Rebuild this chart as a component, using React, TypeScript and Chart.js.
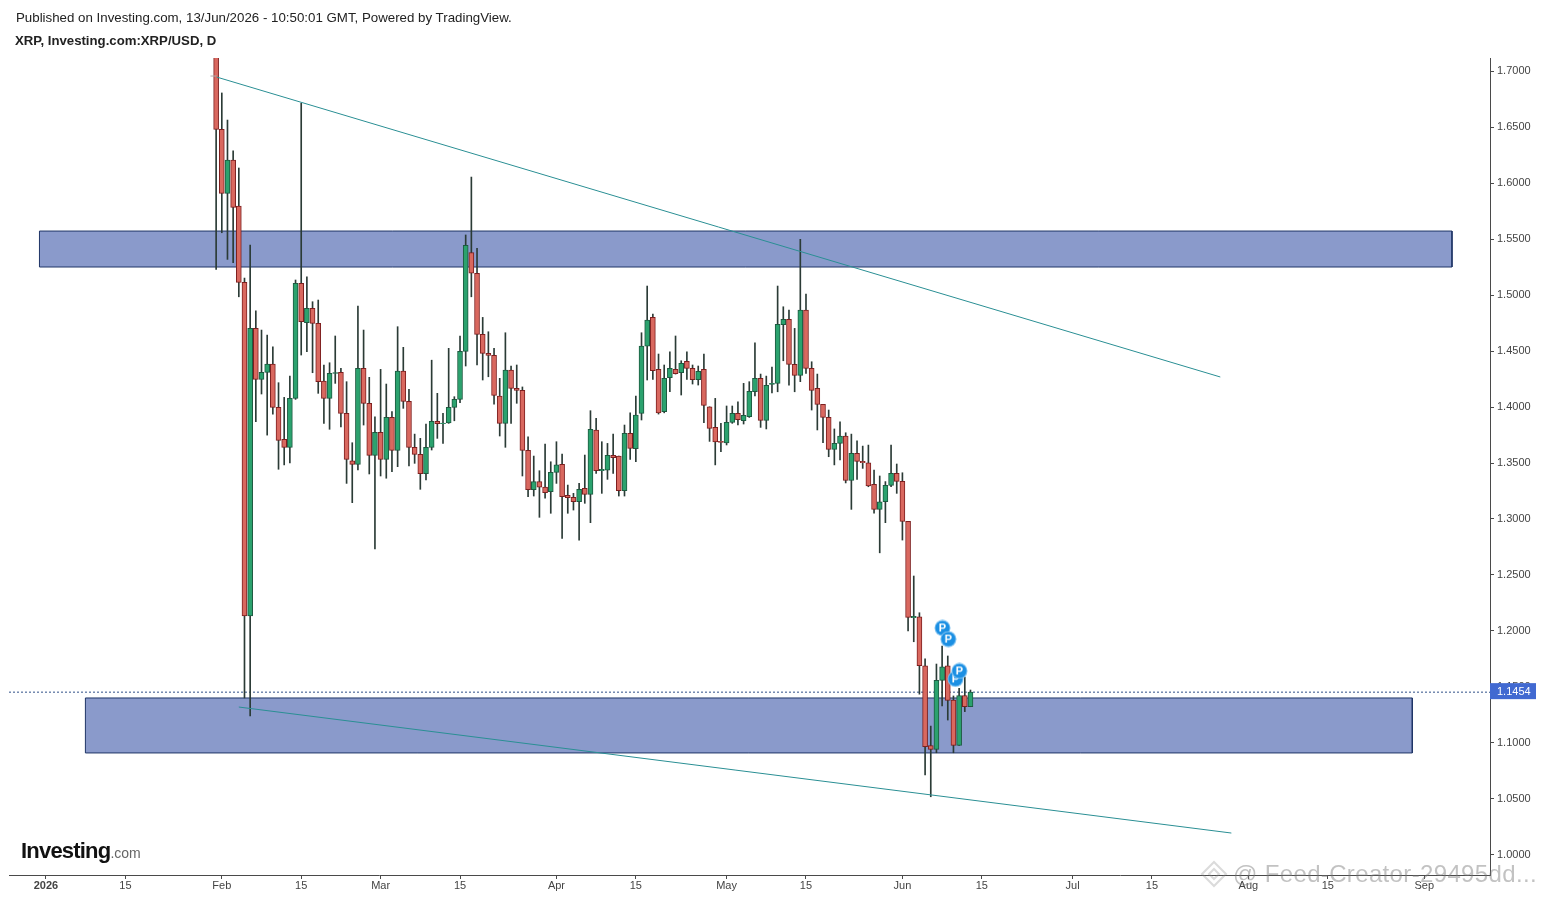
import React, { useEffect, useRef } from "react";
import { Chart, registerables } from "chart.js";

Chart.register(...registerables);

const firstDay = 30; // days since 1 Jan 2026
const opens = [1.72,1.6479,1.5908,1.6205,1.5794,1.5113,1.2134,1.4702,1.4247,1.4309,1.4384,1.3997,1.3711,1.364,1.4077,1.5104,1.4752,1.4881,1.4747,1.4232,1.4077,1.43,1.4309,1.3943,1.352,1.3488,1.4345,1.4033,1.3568,1.3773,1.3532,1.3907,1.3613,1.4321,1.405,1.364,1.3577,1.3404,1.364,1.3872,1.3851,1.3857,1.3997,1.4068,1.4497,1.5378,1.5194,1.4649,1.4479,1.4461,1.4098,1.3854,1.433,1.4166,1.4149,1.3613,1.3262,1.3334,1.3284,1.3244,1.3417,1.3488,1.3212,1.3194,1.3154,1.3274,1.322,1.3795,1.3431,1.3437,1.3568,1.3562,1.3253,1.3765,1.3628,1.3943,1.4544,1.48,1.4336,1.3958,1.4261,1.4336,1.4306,1.4408,1.4345,1.4243,1.4336,1.4002,1.3818,1.3693,1.368,1.3863,1.3943,1.3877,1.3913,1.4136,1.4256,1.3881,1.4202,1.4211,1.4734,1.4782,1.438,1.4282,1.4866,1.4345,1.4166,1.4023,1.3907,1.3622,1.3675,1.3741,1.3344,1.3586,1.3515,1.3502,1.3309,1.3086,1.3154,1.33,1.3407,1.3336,1.2979,1.2118,1.2127,1.169,1.0976,1.0943,1.1559,1.169,1.1384,1.0979,1.1424,1.1324];
const highs = [1.73,1.6804,1.6562,1.6288,1.6134,1.5151,1.5446,1.4859,1.4687,1.4642,1.4538,1.4217,1.4086,1.4276,1.5134,1.6712,1.5163,1.494,1.4955,1.4375,1.4395,1.4634,1.4345,1.4226,1.3681,1.4901,1.4687,1.4265,1.3913,1.4336,1.4205,1.3958,1.4717,1.4533,1.4158,1.3758,1.372,1.3848,1.4418,1.4122,1.3943,1.4524,1.4092,1.4634,1.5536,1.6053,1.5417,1.48,1.4672,1.4524,1.4256,1.4663,1.4366,1.4375,1.4179,1.3734,1.3562,1.3431,1.3669,1.3511,1.369,1.358,1.3303,1.3229,1.3318,1.3571,1.3967,1.3899,1.369,1.3675,1.3758,1.3562,1.3839,1.3948,1.4098,1.4663,1.508,1.483,1.4473,1.4375,1.4493,1.4634,1.4413,1.4493,1.4375,1.4366,1.4473,1.4002,1.4077,1.3854,1.4009,1.4009,1.4047,1.4211,1.4226,1.4574,1.4294,1.4276,1.4357,1.508,1.4895,1.4866,1.4702,1.5497,1.5009,1.4404,1.4294,1.4023,1.3973,1.3804,1.3868,1.377,1.3758,1.3699,1.3651,1.366,1.3437,1.3384,1.3334,1.366,1.3491,1.3413,1.2979,1.2491,1.2163,1.1752,1.1151,1.1705,1.1866,1.1777,1.142,1.1487,1.1589,1.1473];
const lows = [1.5229,1.5556,1.5318,1.5288,1.4984,1.1402,1.1241,1.3868,1.4116,1.3749,1.3937,1.3444,1.3483,1.35,1.4068,1.4464,1.4493,1.4306,1.4122,1.3854,1.3801,1.4211,1.3822,1.3318,1.3146,1.3438,1.3839,1.3402,1.2732,1.3384,1.3364,1.3422,1.3467,1.3988,1.3473,1.3497,1.3265,1.3348,1.3616,1.372,1.3675,1.3854,1.3877,1.4038,1.4366,1.4984,1.4375,1.4241,1.427,1.4026,1.3741,1.364,1.3854,1.4033,1.3384,1.32,1.3205,1.3015,1.3185,1.3051,1.3318,1.2827,1.3051,1.308,1.2812,1.314,1.2967,1.3408,1.3229,1.3354,1.3408,1.3205,1.3205,1.3532,1.3511,1.3884,1.4241,1.4247,1.3937,1.3948,1.4136,1.4294,1.4107,1.4247,1.4205,1.4196,1.3859,1.3693,1.3483,1.3601,1.3661,1.3854,1.3839,1.3848,1.3907,1.4098,1.3818,1.3804,1.4125,1.4136,1.4413,1.4196,1.4136,1.4226,1.43,1.3973,1.3795,1.3681,1.3556,1.3483,1.3528,1.3322,1.3086,1.3354,1.3452,1.3288,1.3051,1.2698,1.2967,1.3288,1.3229,1.2812,1.2,1.1904,1.1436,1.0714,1.052,1.0913,1.133,1.1205,1.0913,1.0979,1.128,1.1324];
const closes = [1.6479,1.5908,1.6205,1.5783,1.5113,1.2134,1.4702,1.4247,1.4309,1.4384,1.3997,1.3702,1.364,1.4077,1.5104,1.4761,1.4881,1.4747,1.4226,1.4077,1.43,1.4307,1.3943,1.3532,1.3488,1.4345,1.4033,1.3568,1.3773,1.3532,1.3907,1.3613,1.4321,1.405,1.364,1.3577,1.3404,1.364,1.3872,1.3851,1.3857,1.3997,1.4068,1.4497,1.5444,1.5194,1.4649,1.4479,1.4461,1.4104,1.3854,1.433,1.4166,1.4149,1.3613,1.3262,1.3334,1.3284,1.3235,1.3417,1.3483,1.3199,1.319,1.3154,1.3265,1.322,1.3801,1.3431,1.3443,1.3568,1.3547,1.3253,1.3765,1.3631,1.3928,1.4544,1.4777,1.4324,1.3948,1.4256,1.4345,1.4297,1.439,1.4345,1.4243,1.4318,1.4014,1.3809,1.3689,1.3684,1.3863,1.3943,1.3886,1.3925,1.414,1.4256,1.3881,1.4193,1.4211,1.4738,1.4782,1.438,1.4282,1.4866,1.4345,1.4149,1.4023,1.3907,1.3622,1.3675,1.3741,1.3344,1.3586,1.3515,1.3502,1.3295,1.3086,1.3154,1.33,1.3407,1.3336,1.2979,1.2122,1.2131,1.169,1.0967,1.0943,1.1559,1.1681,1.1381,1.0979,1.1424,1.1324,1.1454];

const priceTicks = [1.0,1.05,1.1,1.15,1.2,1.25,1.3,1.35,1.4,1.45,1.5,1.55,1.6,1.65,1.7];
const dateTickDays = [0,14,31,45,59,73,90,104,120,134,151,165,181,195,212,226,243];
const dateTickLabels = ["2026","15","Feb","15","Mar","15","Apr","15","May","15","Jun","15","Jul","15","Aug","15","Sep"];

const lastPrice = 1.1454;

const upperZoneDays = [-1.15, 247.9];
const upperZonePrices = [1.5571, 1.525];
const lowerZoneDays = [6.95, 240.9];
const lowerZonePrices = [1.1402, 1.0911];

const upperTrendDays = [30.1, 207.05];
const upperTrendPrices = [1.6946, 1.4268];
const lowerTrendDays = [34.0, 209.0];
const lowerTrendPrices = [1.1321, 1.0196];
const stubDays = [29.0, 30.1];
const stubPrices = [1.6955, 1.6955];

const badgeDays = [158.06, 159.1, 160.35, 161.05];
const badgePrices = [1.2027, 1.1928, 1.1572, 1.1643];

const FONT = '"Liberation Sans", Arial, sans-serif';
const RED = "#d9685f";
const RED_EDGE = "#7d1f1f";
const GREEN = "#2ba26e";
const GREEN_EDGE = "#1d5a40";
const WICK = "#2b3b36";
const ZONE = "#8a9acb";
const ZONE_EDGE = "#1f3566";
const TREND = "#2a8f94";
const AXIS = "#4a4a4a";

const zonePoints = (days: number[], prices: number[]) => [
  { x: days[0], y: prices[0] },
  { x: days[1], y: prices[0] },
  { x: days[1], y: prices[1] },
  { x: days[0], y: prices[1] },
  { x: days[0], y: prices[0] },
];
const linePoints = (days: number[], prices: number[]) => days.map((d, i) => ({ x: d, y: prices[i] }));

function makeBadge(): HTMLCanvasElement {
  const c = document.createElement("canvas");
  c.width = 17;
  c.height = 17;
  const g = c.getContext("2d")!;
  g.beginPath();
  g.arc(8.5, 8.5, 8, 0, Math.PI * 2);
  g.fillStyle = "#7cc0f0";
  g.fill();
  g.beginPath();
  g.arc(8.5, 8.5, 7, 0, Math.PI * 2);
  g.fillStyle = "#1b8fe3";
  g.fill();
  g.fillStyle = "#ffffff";
  g.font = `bold 11px ${FONT}`;
  g.textAlign = "center";
  g.textBaseline = "middle";
  g.fillText("P", 8.5, 9);
  return c;
}

const priceTag = {
  id: "priceTag",
  afterDraw(chart: any) {
    const y = chart.scales.y.getPixelForValue(lastPrice);
    const x = chart.chartArea.right;
    const g = chart.ctx;
    g.save();
    g.fillStyle = "#4169d1";
    g.fillRect(x, y - 9, 46, 16);
    g.fillStyle = "#ffffff";
    g.font = `11px ${FONT}`;
    g.textAlign = "left";
    g.textBaseline = "middle";
    g.fillText(lastPrice.toFixed(4), x + 7, y);
    g.restore();
  },
};

export default function App() {
  const ref = useRef<HTMLCanvasElement>(null);
  useEffect(() => {
    const days = opens.map((_, i) => firstDay + i);
    const isUp = opens.map((o, i) => closes[i] >= o);
    const chart = new Chart(ref.current!, {
      type: "bar",
      data: {
        datasets: [
          {
            type: "scatter",
            order: 0,
            data: linePoints(badgeDays, badgePrices),
            pointStyle: makeBadge(),
            pointRadius: 8,
            showLine: false,
          } as any,
          {
            type: "line",
            order: 1,
            data: linePoints(upperTrendDays, upperTrendPrices),
            borderColor: TREND,
            borderWidth: 1,
            pointRadius: 0,
          },
          {
            type: "line",
            order: 1,
            data: linePoints(lowerTrendDays, lowerTrendPrices),
            borderColor: TREND,
            borderWidth: 1,
            pointRadius: 0,
          },
          {
            type: "line",
            order: 1,
            data: linePoints(stubDays, stubPrices),
            borderColor: "#b0a8a8",
            borderWidth: 1,
            pointRadius: 0,
          },
          {
            type: "bar",
            order: 2,
            grouped: false,
            barThickness: 5,
            borderWidth: 1,
            borderSkipped: false,
            data: days.map((d, i) => ({ x: d, y: [opens[i], closes[i]] })),
            backgroundColor: isUp.map((u) => (u ? GREEN : RED)),
            borderColor: isUp.map((u) => (u ? GREEN_EDGE : RED_EDGE)),
          } as any,
          {
            type: "bar",
            order: 3,
            grouped: false,
            barThickness: 1,
            borderWidth: 0,
            data: days.map((d, i) => ({ x: d, y: [lows[i], highs[i]] })),
            backgroundColor: WICK,
          } as any,
          {
            type: "line",
            order: 4,
            data: [
              { x: -6.52, y: lastPrice },
              { x: 254.6, y: lastPrice },
            ],
            borderColor: "#2f4f88",
            borderWidth: 1,
            borderDash: [2, 2],
            pointRadius: 0,
          },
          {
            type: "line",
            order: 5,
            data: zonePoints(upperZoneDays, upperZonePrices),
            borderColor: ZONE_EDGE,
            borderWidth: 1,
            backgroundColor: ZONE,
            fill: "shape",
            pointRadius: 0,
          },
          {
            type: "line",
            order: 5,
            data: zonePoints(lowerZoneDays, lowerZonePrices),
            borderColor: ZONE_EDGE,
            borderWidth: 1,
            backgroundColor: ZONE,
            fill: "shape",
            pointRadius: 0,
          },
        ],
      } as any,
      options: {
        responsive: false,
        animation: false,
        layout: { padding: { left: 8, top: 58, right: 0, bottom: 0 } },
        plugins: { legend: { display: false }, tooltip: { enabled: false } },
        scales: {
          x: {
            type: "linear",
            min: -6.52,
            max: 254.6,
            offset: false,
            grid: { offset: false, drawOnChartArea: false, drawTicks: true, tickLength: 4, color: AXIS },
            border: { color: AXIS, width: 1 },
            afterFit: (s: any) => {
              s.height = 23;
            },
            afterBuildTicks: (s: any) => {
              s.ticks = dateTickDays.map((v) => ({ value: v }));
            },
            ticks: {
              autoSkip: false,
              maxRotation: 0,
              padding: 0,
              color: "#444444",
              font: (c: any) => ({ family: FONT, size: 11, weight: c.index === 0 ? "bold" : "normal" }),
              callback: (v: any) => dateTickLabels[dateTickDays.indexOf(v)],
            },
          },
          y: {
            type: "linear",
            position: "right",
            min: 0.98214,
            max: 1.71161,
            grid: { offset: false, drawOnChartArea: false, drawTicks: true, tickLength: 4, color: AXIS },
            border: { color: AXIS, width: 1 },
            afterFit: (s: any) => {
              s.width = 52;
            },
            afterBuildTicks: (s: any) => {
              s.ticks = priceTicks.map((v) => ({ value: v }));
            },
            ticks: {
              autoSkip: false,
              padding: 3,
              crossAlign: "near",
              color: "#444444",
              font: { family: FONT, size: 11 },
              callback: (v: any) => Number(v).toFixed(4),
            },
          },
        },
      } as any,
      plugins: [priceTag],
    });
    return () => chart.destroy();
  }, []);

  const text = (left: number, top: number, style: React.CSSProperties) => ({
    position: "fixed" as const,
    left,
    top,
    fontFamily: FONT,
    whiteSpace: "nowrap" as const,
    ...style,
  });

  return (
    <div>
      <canvas ref={ref} width={1542} height={898} style={{ position: "fixed", left: 0, top: 0, display: "block" }} />
      <div style={text(16, 10, { fontSize: 13.3, color: "#222" })}>
        Published on Investing.com, 13/Jun/2026 - 10:50:01 GMT, Powered by TradingView.
      </div>
      <div style={text(15, 33, { fontSize: 13.2, fontWeight: "bold", color: "#222" })}>XRP, Investing.com:XRP/USD, D</div>
      <div style={text(21, 838, { fontSize: 22, fontWeight: "bold", letterSpacing: -0.8, color: "#111", lineHeight: "26px" })}>
        Investing<span style={{ fontSize: 14, fontWeight: "normal", color: "#666", letterSpacing: 0 }}>.com</span>
      </div>
      <svg width="28" height="28" viewBox="0 0 28 28" style={{ position: "fixed", left: 1200, top: 860, opacity: 0.3 }}>
        <path d="M14 2 L26 14 L14 26 L2 14 Z" fill="none" stroke="#888" strokeWidth="2" />
        <path d="M14 9 L19 14 L14 19 L9 14 Z" fill="none" stroke="#888" strokeWidth="2" />
      </svg>
      <div style={text(1233, 860, { fontSize: 24, letterSpacing: 0.35, color: "rgba(120,120,120,0.45)", lineHeight: "28px" })}>
        @ Feed-Creator-29495dd...
      </div>
    </div>
  );
}
